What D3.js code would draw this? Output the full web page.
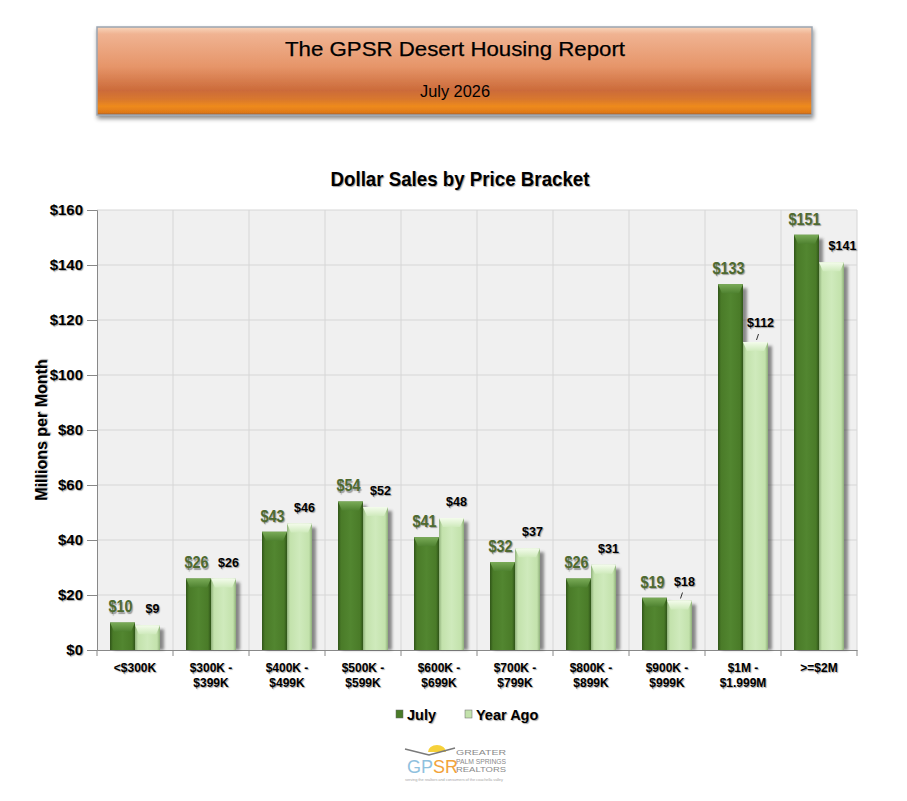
<!DOCTYPE html>
<html lang="en">
<head>
<meta charset="UTF-8">
<title>GPSR Desert Housing Report</title>
<script src="https://d3js.org/d3.v7.min.js"></script>
<style>
  body { margin: 0; background: #fff; }
  svg text { font-family: "Liberation Sans", Arial, sans-serif; }
  .shadow { text-shadow: 1px 1px 1px rgba(0,0,0,0.35); }
</style>
</head>
<body>
<div id="container"></div>
<script>
// data
var categories = ["<$300K", "$300K -\n$399K", "$400K -\n$499K", "$500K -\n$599K", "$600K -\n$699K",
                  "$700K -\n$799K", "$800K -\n$899K", "$900K -\n$999K", "$1M -\n$1.999M", ">=$2M"];
var july    = [10, 26, 43, 54, 41, 32, 26, 19, 133, 151];
var yearAgo = [9, 26, 46, 52, 48, 37, 31, 18, 112, 141];
var seriesNames = ["July", "Year Ago"];
var yTicks = [0, 20, 40, 60, 80, 100, 120, 140, 160];

var width = 907, height = 801;
var pLeft = 97, pRight = 857, pTop = 210, pBottom = 650;

var svg = d3.select("#container").append("svg").attr("width", width).attr("height", height);
var defs = svg.append("defs");

// header banner gradient
var hg = defs.append("linearGradient").attr("id", "banner").attr("x1", 0).attr("y1", 0).attr("x2", 0).attr("y2", 1);
[[0, "#f8d6bc"], [0.08, "#f0b392"], [0.45, "#e69569"], [0.72, "#cc6b3a"], [0.82, "#d8772e"],
 [0.9, "#ee8a1c"], [0.97, "#e07a18"], [1, "#9a5a30"]].forEach(function(s) {
  hg.append("stop").attr("offset", s[0]).attr("stop-color", s[1]);
});
var bf = defs.append("filter").attr("id", "bshadow").attr("x", -0.05).attr("y", -0.1).attr("width", 1.1).attr("height", 1.3);
bf.append("feDropShadow").attr("dx", 1).attr("dy", 3).attr("stdDeviation", 2).attr("flood-color", "#000").attr("flood-opacity", 0.45);

svg.append("rect").attr("x", 97).attr("y", 27).attr("width", 715).attr("height", 88)
  .attr("fill", "url(#banner)").attr("stroke", "#9aa4b0").attr("stroke-width", 1.5)
  .attr("filter", "url(#bshadow)");
svg.append("text").attr("x", 455).attr("y", 56).attr("text-anchor", "middle")
  .attr("font-size", 21).attr("fill", "#000").attr("stroke", "#000").attr("stroke-width", 0.25)
  .attr("textLength", 340).attr("lengthAdjust", "spacingAndGlyphs").text("The GPSR Desert Housing Report");
svg.append("text").attr("x", 455).attr("y", 97).attr("text-anchor", "middle")
  .attr("font-size", 16).attr("fill", "#000")
  .attr("textLength", 70).attr("lengthAdjust", "spacingAndGlyphs").text("July 2026");

// chart title
svg.append("text").attr("class", "shadow").attr("x", 460).attr("y", 186).attr("text-anchor", "middle")
  .attr("font-size", 21).attr("font-weight", "bold")
  .attr("textLength", 259).attr("lengthAdjust", "spacingAndGlyphs").text("Dollar Sales by Price Bracket");

// scales
var x0 = d3.scaleBand().domain(d3.range(categories.length)).range([pLeft, pRight]).padding(0);
var x1 = d3.scaleBand().domain(seriesNames).range([0, x0.bandwidth()]).paddingInner(0).paddingOuter(0.52);
var y = d3.scaleLinear().domain([0, 160]).range([pBottom, pTop]);

// plot area
svg.append("rect").attr("x", pLeft).attr("y", pTop).attr("width", pRight - pLeft).attr("height", pBottom - pTop)
  .attr("fill", "#f0f0f0");
svg.append("g").selectAll("line").data(yTicks.slice(1)).join("line")
  .attr("x1", pLeft).attr("x2", pRight).attr("y1", d => y(d)).attr("y2", d => y(d))
  .attr("stroke", "#d6d6d6");
svg.append("g").selectAll("line").data(d3.range(1, categories.length + 1)).join("line")
  .attr("x1", d => pLeft + d * x0.step()).attr("x2", d => pLeft + d * x0.step())
  .attr("y1", pTop).attr("y2", pBottom).attr("stroke", "#d6d6d6");

// axes
var yAxis = d3.axisLeft(y).tickValues(yTicks).tickSize(10).tickPadding(4).tickFormat(d => "$" + d);
var gy = svg.append("g").attr("transform", "translate(" + pLeft + ",0)").call(yAxis);
gy.select(".domain").attr("stroke", "#888");
gy.selectAll(".tick line").attr("stroke", "#888");
gy.selectAll(".tick text").attr("class", "shadow").attr("font-size", 15).attr("font-weight", "bold")
  .attr("fill", "#000").style("font-family", '"Liberation Sans", Arial, sans-serif');

var xAxis = d3.axisBottom(x0).tickSize(0).tickFormat("");
var gx = svg.append("g").attr("transform", "translate(0," + pBottom + ")").call(xAxis);
gx.select(".domain").attr("stroke", "#888");
gx.append("g").selectAll("line").data(d3.range(0, categories.length + 1)).join("line")
  .attr("x1", d => pLeft + d * x0.step()).attr("x2", d => pLeft + d * x0.step())
  .attr("y1", 0).attr("y2", 6).attr("stroke", "#888");

// category labels
var cl = svg.append("g").selectAll("text").data(categories).join("text")
  .attr("class", "shadow").attr("text-anchor", "middle")
  .attr("font-size", 12).attr("font-weight", "bold").attr("fill", "#000")
  .attr("transform", (d, i) => "translate(" + (x0(i) + x0.bandwidth() / 2) + "," + (pBottom + 22) + ")");
cl.each(function(d) {
  d3.select(this).selectAll("tspan").data(d.split("\n")).join("tspan")
    .attr("x", 0).attr("dy", (t, j) => j === 0 ? 0 : 15).text(t => t);
});

// y axis title
svg.append("text").attr("class", "shadow").attr("transform", "translate(47,430) rotate(-90)")
  .attr("text-anchor", "middle").attr("font-size", 16).attr("font-weight", "bold")
  .text("Millions per Month");

// bar gradients
function barGrad(id, edge, mid, light) {
  var g = defs.append("linearGradient").attr("id", id).attr("x1", 0).attr("y1", 0).attr("x2", 1).attr("y2", 0);
  g.append("stop").attr("offset", 0).attr("stop-color", edge);
  g.append("stop").attr("offset", 0.12).attr("stop-color", mid);
  g.append("stop").attr("offset", 0.5).attr("stop-color", light);
  g.append("stop").attr("offset", 0.88).attr("stop-color", mid);
  g.append("stop").attr("offset", 1).attr("stop-color", edge);
}
barGrad("gJuly", "#2f5418", "#4a7b28", "#528630");
barGrad("gYear", "#8fb07a", "#c3e2ac", "#cfeabc");
function capGrad(id, a, b) {
  var g = defs.append("linearGradient").attr("id", id).attr("x1", 0).attr("y1", 0).attr("x2", 0).attr("y2", 1);
  g.append("stop").attr("offset", 0).attr("stop-color", a);
  g.append("stop").attr("offset", 1).attr("stop-color", b);
}
capGrad("cJuly", "#7aab58", "#4f8230");
capGrad("cYear", "#f4fcec", "#cfeabc");
var sf = defs.append("filter").attr("id", "barShadow").attr("x", -0.3).attr("y", -0.1).attr("width", 1.8).attr("height", 1.2);
sf.append("feGaussianBlur").attr("stdDeviation", 1.5);

var series = [
  {name: "July", values: july, fill: "url(#gJuly)", cap: "url(#cJuly)", solid: "#4a7b28"},
  {name: "Year Ago", values: yearAgo, fill: "url(#gYear)", cap: "url(#cYear)", solid: "#c3e2ac"}
];
var bw = x1.bandwidth();

series.forEach(function(s) {
  var g = svg.append("g");
  var bars = s.values.map((v, i) => ({v: v, i: i, x: x0(i) + x1(s.name)}));
  // shadow
  g.selectAll("rect.sh").data(bars).join("rect").attr("class", "sh")
    .attr("x", d => d.x + 4).attr("y", d => y(d.v) + 4).attr("width", bw)
    .attr("height", d => pBottom - y(d.v) - 4).attr("fill", "#333").attr("opacity", 0.55)
    .attr("filter", "url(#barShadow)");
  g.selectAll("rect.bar").data(bars).join("rect").attr("class", "bar")
    .attr("x", d => d.x).attr("y", d => y(d.v)).attr("width", bw)
    .attr("height", d => pBottom - y(d.v)).attr("fill", s.fill);
  // top bevel
  g.selectAll("path.cap").data(bars).join("path").attr("class", "cap")
    .attr("d", d => {
      var t = y(d.v), h = Math.min(9, pBottom - t);
      return "M" + d.x + "," + t + "L" + (d.x + bw) + "," + t + "L" + (d.x + bw - 4) + "," + (t + h) +
             "L" + (d.x + 4) + "," + (t + h) + "Z";
    })
    .attr("fill", s.cap);
});

// data labels
svg.append("g").selectAll("text").data(july).join("text")
  .attr("class", "shadow").attr("text-anchor", "middle")
  .attr("x", (d, i) => x0(i) + x1("July") + bw / 2 - 2).attr("y", d => y(d) - 10)
  .attr("font-size", 17).attr("font-weight", "bold").attr("fill", "#4e6a30")
  .attr("transform-origin", (d, i) => (x0(i) + x1("July") + bw / 2 - 2) + " " + (y(d) - 10))
  .attr("transform", "scale(0.85,1)").text(d => "$" + d);

var yaOffset = [0, 0, 0, 0, 0, 0, 0, 0, 0, 6];
svg.append("g").selectAll("text").data(yearAgo).join("text")
  .attr("class", "shadow").attr("text-anchor", "middle")
  .attr("x", (d, i) => x0(i) + x1("Year Ago") + bw / 2 + 5 + yaOffset[i])
  .attr("y", (d, i) => y(d) - 12 - (i === 7 || i === 8 ? 3 : 0))
  .attr("font-size", 12.5).attr("font-weight", "bold").attr("fill", "#000").text(d => "$" + d);
// leader lines for the two labels lifted off their bars
svg.append("g").selectAll("line").data([7, 8]).join("line")
  .attr("x1", i => x0(i) + x1("Year Ago") + bw / 2 + 1).attr("x2", i => x0(i) + x1("Year Ago") + bw / 2 + 3)
  .attr("y1", i => y(yearAgo[i]) - 2).attr("y2", i => y(yearAgo[i]) - 8)
  .attr("stroke", "#000").attr("stroke-width", 0.8);

// legend
var leg = svg.append("g").attr("transform", "translate(396,709)");
var lx = [0, 69];
series.forEach(function(s, k) {
  leg.append("rect").attr("x", lx[k]).attr("y", 1).attr("width", 7).attr("height", 8)
    .attr("fill", s.solid).attr("stroke", "#666").attr("stroke-width", 0.5);
  leg.append("text").attr("class", "shadow").attr("x", lx[k] + 11).attr("y", 11)
    .attr("font-size", 14.5).attr("font-weight", "bold").text(s.name);
});

// GPSR logo
var logo = svg.append("g").attr("transform", "translate(403,745)");
logo.append("path").attr("d", "M25,7 A9,7 0 0 1 43,7 Z").attr("fill", "#f6d13a");
logo.append("path").attr("d", "M2,4 L26,10 L52,3").attr("fill", "none").attr("stroke", "#7a7a7a").attr("stroke-width", 1.5);
logo.append("text").attr("x", 4).attr("y", 28).attr("font-size", 18)
  .selectAll("tspan").data([["GP", "#8fc1de"], ["SR", "#f2a33a"]]).join("tspan")
  .attr("fill", d => d[1]).text(d => d[0]);
logo.append("g").selectAll("text").data(["GREATER", "PALM SPRINGS", "REALTORS"]).join("text")
  .attr("x", 53).attr("y", (d, i) => 10 + i * 8.5).attr("font-size", 8)
  .attr("fill", "#8a8a8a")
  .attr("textLength", 50).attr("lengthAdjust", "spacingAndGlyphs").text(d => d);
logo.append("text").attr("x", 2).attr("y", 36).attr("font-size", 4).attr("fill", "#aaa")
  .attr("textLength", 98).text("serving the realtors and consumers of the coachella valley");
</script>
</body>
</html>
